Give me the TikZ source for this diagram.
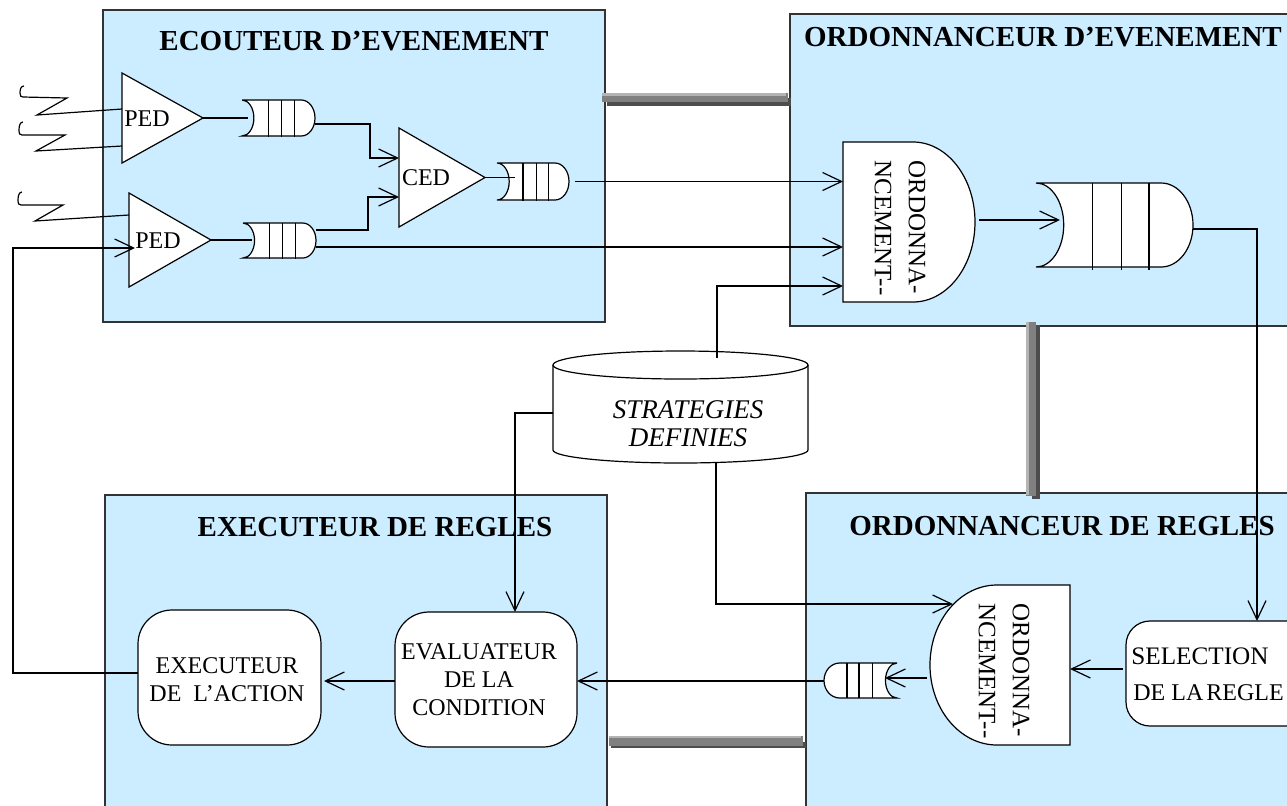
\documentclass[tikz,border=0pt]{standalone}
\usepackage{fontspec}
\setmainfont{Liberation Serif}
\usetikzlibrary{arrows.meta,fit,calc}

\definecolor{panelblue}{RGB}{204,236,255}
\definecolor{barlight}{RGB}{180,180,180}
\definecolor{barmid}{RGB}{128,128,128}
\definecolor{bardark}{RGB}{77,77,77}

\tikzset{
  panel/.style={draw=black!80, line width=0.7pt, fill=panelblue},
  title/.style={font=\fontsize{14.5}{17}\selectfont\bfseries, inner sep=0},
  txt/.style={font=\fontsize{12}{14}\selectfont, align=center, inner sep=0},
  seltxt/.style={font=\fontsize{12.6}{14}\selectfont, inner sep=0, anchor=west},
  vtxt/.style={font=\fontsize{12.5}{17}\selectfont, align=left, inner sep=0, rotate=-90},
  itxt/.style={font=\fontsize{13.5}{14}\selectfont\itshape, align=center, inner sep=0},
  wire/.style={line width=0.6pt, draw=black},
  arr/.style={wire, -{Straight Barb[length=9.5pt,width=9pt,line width=0.6pt]}},
  shp/.style={draw=black, line width=0.6pt, fill=white},
  frame/.style={inner sep=0, outer sep=0},
  rbox/.style={shp, frame, rounded corners=#1},
}

% queue with an open (concave) left end and a rounded right end
% #1 name, #2 #3 top-left corner, #4 width, #5 height
\newcommand\queueR[5]{%
  \node[frame, fit={(#2,#3)(#2+#4,#3+#5)}] (#1) {};
  \pgfmathsetmacro\qd{0.33*#5}\pgfmathsetmacro\qr{0.38*#5}%
  \path[shp] (#2,#3) -- ({#2+#4-\qr},#3)
    .. controls ({#2+#4-0.448*\qr},#3) and ({#2+#4},{#3+0.224*#5}) .. ({#2+#4},{#3+0.5*#5})
    .. controls ({#2+#4},{#3+0.776*#5}) and ({#2+#4-0.448*\qr},{#3+#5}) .. ({#2+#4-\qr},{#3+#5})
    -- (#2,{#3+#5})
    .. controls ({#2+0.552*\qd},{#3+#5}) and ({#2+\qd},{#3+0.776*#5}) .. ({#2+\qd},{#3+0.5*#5})
    .. controls ({#2+\qd},{#3+0.224*#5}) and ({#2+0.552*\qd},#3) .. (#2,#3);
  \foreach \f in {0.36,0.545,0.72}
    \draw[wire] ({#2+\f*#4},#3) -- ({#2+\f*#4},{#3+#5+0.04*#5});
}
% mirrored queue: rounded left end, open right end
\newcommand\queueL[5]{%
  \node[frame, fit={(#2,#3)(#2+#4,#3+#5)}] (#1) {};
  \pgfmathsetmacro\qd{0.33*#5}\pgfmathsetmacro\qr{0.45*#5}%
  \path[shp] ({#2+#4},#3) -- ({#2+\qr},#3)
    .. controls ({#2+0.448*\qr},#3) and (#2,{#3+0.224*#5}) .. (#2,{#3+0.5*#5})
    .. controls (#2,{#3+0.776*#5}) and ({#2+0.448*\qr},{#3+#5}) .. ({#2+\qr},{#3+#5})
    -- ({#2+#4},{#3+#5})
    .. controls ({#2+#4-0.552*\qd},{#3+#5}) and ({#2+#4-\qd},{#3+0.776*#5}) .. ({#2+#4-\qd},{#3+0.5*#5})
    .. controls ({#2+#4-\qd},{#3+0.224*#5}) and ({#2+#4-0.552*\qd},#3) .. ({#2+#4},#3);
  \foreach \f in {0.315,0.48,0.66}
    \draw[wire] ({#2+\f*#4},#3) -- ({#2+\f*#4},{#3+#5});
}

\begin{document}
\begin{tikzpicture}[x=0.5pt,y=-0.5pt]
\useasboundingbox (0,0) rectangle (1287,805);
\clip (0,0) rectangle (1287,805);

% ---------- panels ----------
\path[panel] (103,10) rectangle (605,322);
\path[panel] (790,14) rectangle (1320,326);
\path[panel] (105,495) rectangle (607,830);
\path[panel] (806,493) rectangle (1320,830);

\node[title] (tEc) at (354,41) {ECOUTEUR D’EVENEMENT};
\node[title] (tOe) at (1043,37) {ORDONNANCEUR D’EVENEMENT};
\node[title] (tEx) at (375,527) {EXECUTEUR DE REGLES};
\node[title] (tOr) at (1062,526) {ORDONNANCEUR DE REGLES};

% ---------- thick links between panels ----------
\fill[bardark] (607,98) rectangle (791,106);
\fill[barmid] (602,93) rectangle (788,102);
\fill[barlight] (602,93) rectangle (786,96);

\fill[bardark] (1032,325) rectangle (1040,499);
\fill[barmid] (1026,322) rectangle (1036,496);
\fill[barlight] (1026,322) rectangle (1029,495);

\fill[bardark] (611,742) rectangle (806,748);
\fill[barmid] (609,736) rectangle (803,746);
\fill[barlight] (609,736) rectangle (801,738);

% ---------- event listener ----------
\node[frame, fit={(122,73)(203,163)}] (ped1) {};
\path[shp] (ped1.north west) -- (ped1.east) -- (ped1.south west) -- cycle;
\node[txt] (ped1t) at (147,119) {PED};

\node[frame, fit={(129,193)(211,287)}] (ped2) {};
\path[shp] (ped2.north west) -- (ped2.east) -- (ped2.south west) -- cycle;
\node[txt] (ped2t) at (158,241) {PED};

\node[frame, fit={(399,128)(485,227)}] (ced) {};
\path[shp] (ced.north west) -- (ced.east) -- (ced.south west) -- cycle;
\node[txt] (cedt) at (426,178) {CED};

\queueR{q1}{242}{100}{73}{36}
\queueR{q2}{243}{223}{73}{35}
\queueR{q3}{497}{163}{72}{37}

% ---------- event scheduler ----------
\node[frame, fit={(843,142)(975,302)}] (ordE) {};
\path[shp] (843,142) -- (913,142)
  .. controls (947.2,142) and (975,177.8) .. (975,222)
  .. controls (975,266.2) and (947.2,302) .. (913,302)
  -- (843,302) -- cycle;
\node[vtxt] (ordEt) at (900,228) {ORDONNA-\\NCEMENT-{}-};

\queueR{qE}{1036}{183}{157}{84}

% ---------- rule scheduler ----------
\node[frame, fit={(930,585)(1070,745)}] (ordR) {};
\path[shp] (1070,585) -- (997,585)
  .. controls (960,585) and (930,620.8) .. (930,665)
  .. controls (930,709.2) and (960,745) .. (997,745)
  -- (1070,745) -- cycle;
\node[vtxt] (ordRt) at (1004,671) {ORDONNA-\\NCEMENT-{}-};

\queueL{qR}{824}{663}{73}{35}

\node[rbox=12pt, fit={(1126,621)(1330,726)}] (sel) {};
\node[seltxt] (selt1) at (1131,656) {SELECTION};
\node[txt, anchor=west] (selt2) at (1133,693) {DE LA\hspace{-1.5pt} REGLE};

% ---------- rule executor ----------
\node[rbox=17pt, fit={(138,610)(321,745)}] (exa) {};
\node[txt] (exat) at (227,680) {EXECUTEUR\\DE\ \ L’ACTION};

\node[rbox=17pt, fit={(395,612)(577,747)}] (eva) {};
\node[txt] (evat) at (479,680) {EVALUATEUR\\DE LA\\CONDITION};

% ---------- strategy store ----------
\node[frame, fit={(553,351)(808,463)}] (strat) {};
\path[shp] (553,365) -- (553,450)
  arc[start angle=180, end angle=0, x radius=127.5, y radius=13]
  -- (808,365)
  arc[start angle=0, end angle=-180, x radius=127.5, y radius=14];
\draw[wire] (553,365) arc[start angle=180, end angle=0, x radius=127.5, y radius=14];
\node[itxt] (stratt) at (688,424) {STRATEGIES\\[0pt]DEFINIES};
\coordinate (stTop) at (717,358);
\coordinate (stLeft) at (553,413);
\coordinate (stBot) at (716,463);

% ---------- external inputs ----------
\draw[wire] (24,86) .. controls (21,86) and (20,89) .. (20,93)
  .. controls (20,96) and (21,97) .. (23,97) -- (67,98) -- (37,115) -- (ped1.west |- 0,109);
\draw[wire] (23,122) .. controls (20,122) and (19,126) .. (19,130)
  .. controls (19,134) and (20,135) .. (22,135) -- (65,135) -- (36,151) -- (ped1.west |- 0,146);
\draw[wire] (22,192) .. controls (19,192) and (18,196) .. (18,200)
  .. controls (18,204) and (19,205) .. (21,205) -- (63,205) -- (35,221) -- (ped2.west |- 0,215);

% ---------- connectors ----------
\draw[wire] (ped1.east) -- ($(q1.west |- ped1.east)+(6,0)$);
\draw[wire] (ped2.east) -- ($(q2.west |- ped2.east)+(9,0)$);
\draw[arr] (q1.east |- 0,124) -- (370,124) |- (ced.west |- 0,158);
\draw[arr] (q2.east |- 0,230) -- (368,230) |- (ced.west |- 0,197);
\draw[arr] (q2.east |- 0,247) -- (ordE.west |- 0,247);
\draw[wire] (ced.east) -- ($(q3.west |- ced.east)+(18,0)$);
\draw[arr] ($(q3.east)+(6,0)$) -- (ordE.west |- q3.east);
\draw[arr] (stTop) |- (ordE.west |- 0,286);
\draw[arr] ($(ordE.east)+(4,-2)$) -- ($(qE.west |- 0,220)+(24,0)$);
\draw[arr] (qE.east |- 0,229) -| (sel.north -| 1257,0);
\draw[arr] ($(sel.west |- 0,669)+(-3,0)$) -- (ordR.east |- 0,669);
\draw[arr] ($(ordR.west |- 0,678)+(-3,0)$) -- ($(qR.east |- 0,678)+(-12,0)$);
\draw[arr] (qR.west |- 0,681) -- (eva.east |- 0,681);
\draw[arr] (eva.west |- 0,681) -- ($(exa.east |- 0,681)+(3,0)$);
\draw[arr] (stLeft) -| (eva.north -| 515,0);
\draw[arr] (stBot) |- ($(ordR.west |- 0,604)+(23,0)$);
\draw[arr] (exa.west |- 0,673) -- (13,673) |- ($(ped2.west |- 0,248)+(6,0)$);
\end{tikzpicture}
\end{document}
